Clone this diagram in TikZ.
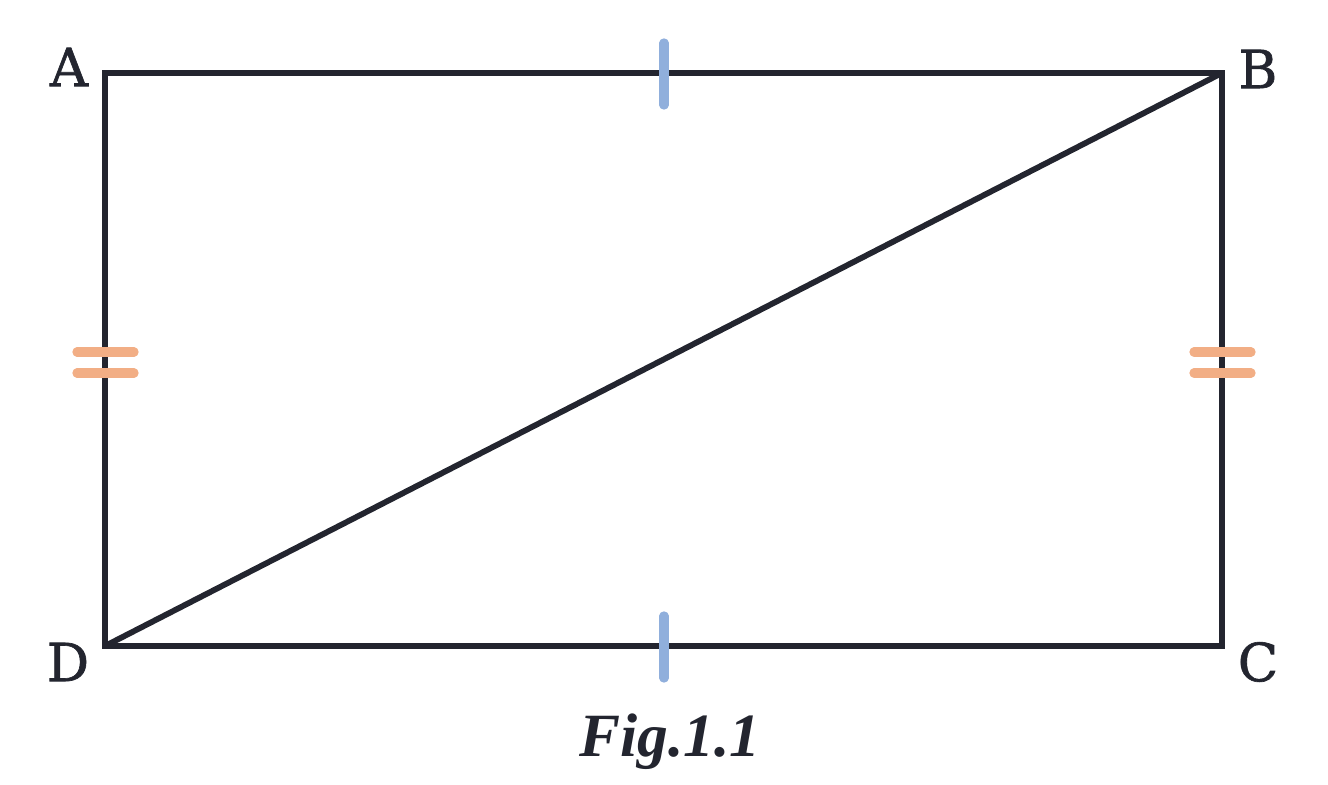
\documentclass[tikz,border=0pt]{standalone}
\usepackage{fontspec}
\setmainfont{DejaVu Serif}
\newfontfamily\capfont{Liberation Serif}
\newfontfamily\labfont[FakeBold=1.2]{DejaVu Serif}
\definecolor{edgecol}{HTML}{23252F}
\definecolor{tickblue}{HTML}{90AFDC}
\definecolor{tickorange}{HTML}{F2AE85}
\begin{document}
\begin{tikzpicture}[x=0.02cm,y=-0.02cm]
\useasboundingbox (0,0) rectangle (1328,784);
\coordinate (A) at (105,73);
\coordinate (B) at (1222,73);
\coordinate (C) at (1222,646);
\coordinate (D) at (105,646);
\draw[edgecol, line width=3.3pt, line join=miter] (A) -- (B) -- (C) -- (D) -- cycle;
\draw[edgecol, line width=3.3pt] (D) -- (B);
\coordinate (tab1) at (664,43);
\coordinate (tab2) at (664,105);
\coordinate (tdc1) at (664,616);
\coordinate (tdc2) at (664,678);
\draw[tickblue, line width=5.3pt, line cap=round] (tab1) -- (tab2);
\draw[tickblue, line width=5.3pt, line cap=round] (tdc1) -- (tdc2);
\coordinate (tad1) at (77,352);
\coordinate (tad2) at (134,352);
\coordinate (tad3) at (77,373);
\coordinate (tad4) at (134,373);
\draw[tickorange, line width=5.3pt, line cap=round] (tad1) -- (tad2);
\draw[tickorange, line width=5.3pt, line cap=round] (tad3) -- (tad4);
\coordinate (tbc1) at (1194,352);
\coordinate (tbc2) at (1251,352);
\coordinate (tbc3) at (1194,373);
\coordinate (tbc4) at (1251,373);
\draw[tickorange, line width=5.3pt, line cap=round] (tbc1) -- (tbc2);
\draw[tickorange, line width=5.3pt, line cap=round] (tbc3) -- (tbc4);
\node[text=edgecol, font=\labfont\fontsize{30}{36}\selectfont] (lA) at (69,67) {A};
\node[text=edgecol, font=\labfont\fontsize{30}{36}\selectfont] (lB) at (1258,69) {B};
\node[text=edgecol, font=\labfont\fontsize{30}{36}\selectfont] (lC) at (1258,662) {C};
\node[text=edgecol, font=\labfont\fontsize{30}{36}\selectfont] (lD) at (68,662) {D};
\node[text=edgecol, font=\capfont\fontsize{35}{42}\selectfont\bfseries\itshape] (cap) at (670,742) {Fig.1.1};
\end{tikzpicture}
\end{document}
